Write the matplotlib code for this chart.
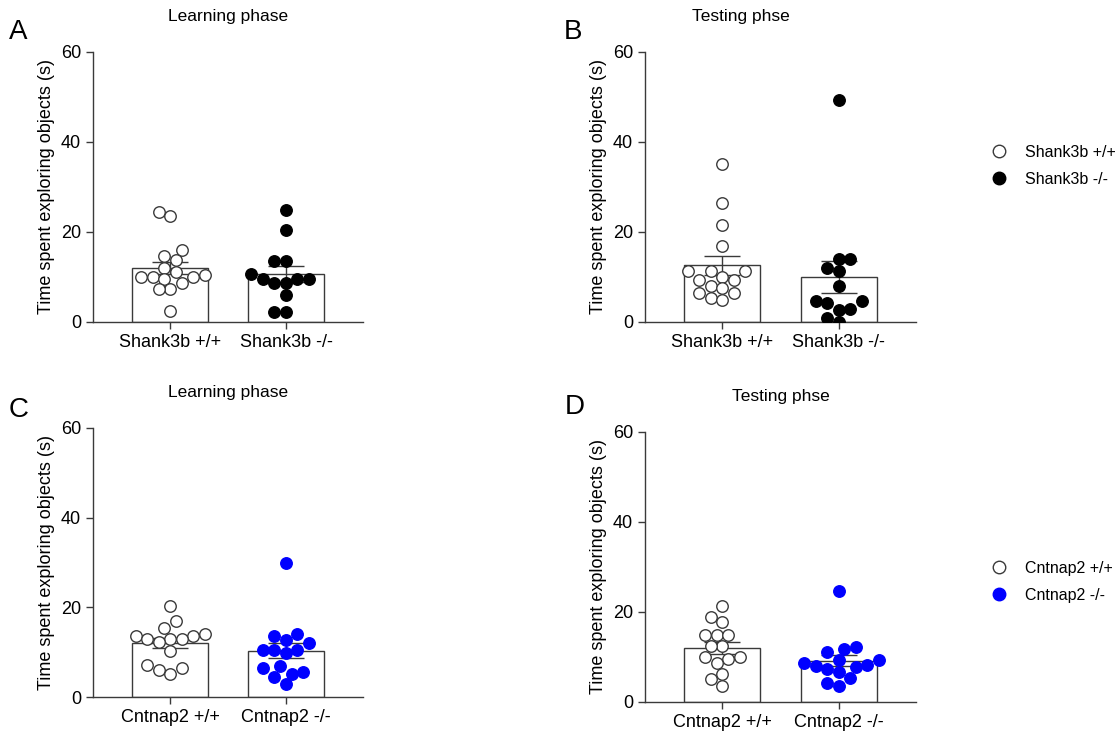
import numpy as np
import matplotlib.pyplot as plt
from matplotlib.lines import Line2D

plt.rcParams['font.family'] = ['Liberation Sans', 'DejaVu Sans']

# values (s)
shank_labels = ['Shank3b +/+', 'Shank3b -/-']
cnt_labels = ['Cntnap2 +/+', 'Cntnap2 -/-']

shank_learn_wt = [24.5, 23.6, 16.0, 14.7, 13.8, 12.1, 11.2, 10.4, 10.1, 10.1, 10.1, 9.5, 8.7, 7.3, 7.3, 2.5]
shank_learn_ko = [24.9, 20.4, 13.6, 13.6, 10.7, 9.6, 9.6, 9.6, 8.7, 8.7, 5.9, 2.2, 2.2]
shank_test_wt = [35.1, 26.4, 21.6, 17.0, 11.4, 11.4, 11.4, 10.1, 9.3, 9.3, 8.1, 7.5, 6.4, 6.4, 5.4, 4.9]
shank_test_ko = [49.3, 14.1, 14.1, 12.1, 11.3, 7.9, 4.7, 4.7, 4.3, 3.0, 2.7, 0.8, 0.1]
cnt_learn_wt = [20.3, 17.0, 15.3, 14.1, 13.5, 13.5, 12.9, 12.9, 12.9, 12.3, 10.3, 7.1, 6.4, 6.0, 5.1]
cnt_learn_ko = [29.8, 14.0, 13.5, 12.7, 12.1, 10.5, 10.5, 10.5, 9.9, 7.0, 6.5, 5.6, 5.1, 4.4, 2.9]
cnt_test_wt = [21.4, 19.0, 17.8, 14.9, 14.9, 14.9, 12.4, 12.4, 9.9, 9.9, 9.5, 8.7, 6.2, 5.1, 3.6]
cnt_test_ko = [24.7, 12.2, 11.7, 11.2, 9.3, 9.3, 8.7, 8.2, 8.0, 7.7, 7.4, 6.6, 5.3, 4.3, 3.6]

W, H = 1115, 735
fig = plt.figure(figsize=(W / 100, H / 100), dpi=100)

EDGE = '#3a3a3a'
BLUE = '#0000ff'
D_PX = 11.5  # marker diameter in pixels


def swarm(vals, px_x, px_y):
    """Horizontal offsets (data units) so markers don't overlap much."""
    vals = np.asarray(vals, dtype=float)
    offs = np.zeros(len(vals))
    placed = []
    step = D_PX * 0.5
    for i in np.argsort(vals):
        y = vals[i] * px_y
        for k in [0, -1, 1, -2, 2, -3, 3, -4, 4, -5, 5, -6, 6, -7, 7]:
            x = k * step
            if all((x - px) ** 2 + (y - py) ** 2 >= (D_PX * 0.98) ** 2 for px, py in placed):
                break
        placed.append((x, y))
        offs[i] = x / px_x
    return offs


def panel(rect, wt, ko, labels, ko_color, title, letter, letter_xy, title_x):
    l, b, r, t = rect
    ax = fig.add_axes([l / W, 1 - b / H, (r - l) / W, (b - t) / H])
    x_lo, x_hi = -0.664, 1.664
    px_x = (r - l) / (x_hi - x_lo)
    px_y = (b - t) / 60.0
    for i, (vals, face) in enumerate([(wt, 'white'), (ko, ko_color)]):
        vals = np.asarray(vals)
        m = vals.mean()
        sem = vals.std(ddof=1) / np.sqrt(len(vals))
        ax.bar(i, m, width=0.655, color='white', edgecolor=EDGE, linewidth=1.0, zorder=1)
        ax.errorbar(i, m, yerr=sem, color=EDGE, capsize=13, elinewidth=1.0,
                    capthick=1.0, zorder=2)
        ec = EDGE if face == 'white' else face
        ax.scatter(i + swarm(vals, px_x, px_y), vals, s=(D_PX * 0.72) ** 2,
                   facecolor=face, edgecolor=ec, linewidths=1.0, zorder=3)
    ax.set_xlim(x_lo, x_hi)
    ax.set_ylim(0, 60)
    ax.set_yticks([0, 20, 40, 60])
    ax.set_xticks([0, 1])
    ax.set_xticklabels(labels, fontsize=13)
    ax.tick_params(axis='y', labelsize=13, length=5, width=1.0, color=EDGE)
    ax.tick_params(axis='x', length=5, width=1.0, color=EDGE)
    for s in ['top', 'right']:
        ax.spines[s].set_visible(False)
    for s in ['left', 'bottom']:
        ax.spines[s].set_color(EDGE)
        ax.spines[s].set_linewidth(1.0)
    ax.set_ylabel('Time spent exploring objects (s)', fontsize=13, labelpad=4)
    fig.text(title_x / W, 1 - letter_xy[2] / H, title, fontsize=12.5,
             ha='center', va='center')
    fig.text(letter_xy[0] / W, 1 - letter_xy[1] / H, letter, fontsize=20,
             ha='left', va='center')
    return ax


panel((93, 322, 363, 52), shank_learn_wt, shank_learn_ko, shank_labels, 'black',
      'Learning phase', 'A', (9, 32, 17), 228)
panel((645, 322, 916, 52), shank_test_wt, shank_test_ko, shank_labels, 'black',
      'Testing phse', 'B', (564, 32, 17), 741)
panel((93, 697, 363, 428), cnt_learn_wt, cnt_learn_ko, cnt_labels, BLUE,
      'Learning phase', 'C', (9, 410, 392), 228)
panel((645, 702, 916, 432), cnt_test_wt, cnt_test_ko, cnt_labels, BLUE,
      'Testing phse', 'D', (565, 407, 397), 781)


def legend(labels, ko_color, y_top):
    handles = [
        Line2D([], [], ls='none', marker='o', markersize=9, markerfacecolor='white',
               markeredgecolor=EDGE, markeredgewidth=1.0),
        Line2D([], [], ls='none', marker='o', markersize=9, markerfacecolor=ko_color,
               markeredgecolor=ko_color, markeredgewidth=1.0),
    ]
    fig.legend(handles, labels, loc='upper left', frameon=False, fontsize=11.5,
               bbox_to_anchor=(975 / W, 1 - y_top / H), handletextpad=0.6,
               labelspacing=0.75, borderpad=0)


legend(shank_labels, 'black', 137)
legend(cnt_labels, BLUE, 553)

fig.savefig('out.png', dpi=100)
